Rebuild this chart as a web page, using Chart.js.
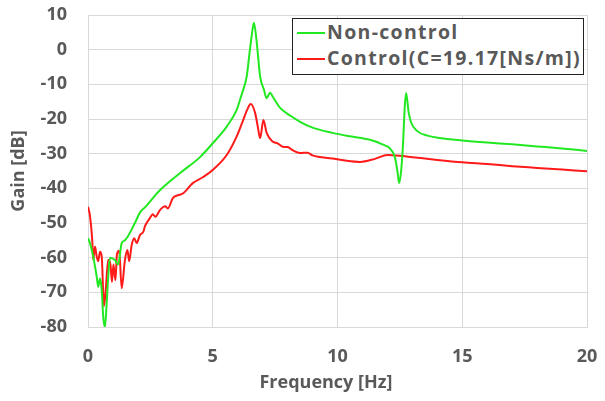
<!DOCTYPE html>
<html>
<head>
<meta charset="utf-8">
<script src="https://cdn.jsdelivr.net/npm/chart.js@4"></script>
<style>
  html,body{margin:0;padding:0;background:#fff;}
  #wrap{position:relative;width:605px;height:401px;}
  canvas{display:block;}
  #legend{position:absolute;left:292px;top:18px;width:292px;height:57px;border:1.5px solid #222;background:#fff;
    font-family:"Open Sans", sans-serif;font-weight:bold;font-size:19.5px;letter-spacing:1.3px;color:#595959;box-sizing:border-box;}
  .row{position:absolute;left:4px;height:26px;line-height:26px;white-space:nowrap;}
  .sw{display:inline-block;width:28px;height:2px;vertical-align:middle;margin-right:2px;position:relative;top:-1px;}
</style>
</head>
<body>
<div id="wrap">
<canvas id="c" width="605" height="401"></canvas>
<div id="legend">
  <div class="row" style="top:0px"><span class="sw" style="background:#22e822"></span>Non-control</div>
  <div class="row" style="top:26px"><span class="sw" style="background:#ff1a1a"></span>Control(C=19.17[Ns/m])</div>
</div>
</div>
<script>
const freqNonControl = [0,0.08,0.21,0.35,0.41,0.48,0.55,0.61,0.68,0.75,0.81,0.88,1.08,1.21,1.35,1.48,1.88,2.08,2.28,2.89,3.69,4.49,5.0,5.56,5.96,6.09,6.22,6.36,6.49,6.57,6.65,6.75,6.9,7.05,7.16,7.3,7.4,7.7,8.1,8.5,9.0,9.8,10.5,11.3,11.8,12.1,12.3,12.4,12.47,12.55,12.62,12.7,12.75,12.85,12.95,13.2,13.6,14.1,15,16,17,18,19,20];
const gainNonControl = [-54.4,-55.8,-59.7,-65.5,-68.4,-66,-69.3,-77,-80,-73,-65.5,-60,-60.7,-62,-55.8,-55,-50,-47,-45.5,-40.5,-35.6,-31,-27,-22.2,-17.4,-14.5,-11.6,-7.8,0,4.5,7.8,3,-7.8,-11.5,-14,-12.4,-13.5,-16.8,-19,-20.8,-22.5,-24,-25,-26,-27.3,-28.5,-31,-35,-38.5,-35,-28,-16,-12.5,-18,-21,-23.5,-24.8,-25.5,-26.2,-26.8,-27.3,-27.9,-28.5,-29.2];

const freqControl = [0,0.08,0.17,0.21,0.28,0.35,0.41,0.48,0.55,0.64,0.71,0.81,0.9,0.96,1.02,1.1,1.16,1.25,1.35,1.48,1.58,1.65,1.75,1.85,1.95,2.08,2.22,2.28,2.48,2.6,2.7,2.89,3.1,3.2,3.4,3.6,3.8,4.2,4.6,5.0,5.56,5.96,6.22,6.4,6.52,6.7,6.8,6.9,7.03,7.16,7.4,7.6,7.8,8.0,8.2,8.5,8.8,9.0,9.8,10.3,10.9,11.5,12.0,12.5,13.0,14.0,15,16,17,18,19,20];
const gainControl = [-45.3,-48,-55,-60.7,-56.8,-59.7,-61,-58.3,-59.7,-74,-69.3,-60.7,-62,-67,-62,-66.5,-59,-58,-68.8,-60.7,-57.8,-61,-56.4,-54.4,-55.8,-53.5,-52.5,-51,-48.6,-47.5,-48.2,-46.2,-45.2,-45.8,-42.8,-42,-41.5,-38.5,-36.8,-34.7,-30.4,-25,-20.3,-17,-15.7,-18.3,-22,-25.5,-20.3,-24,-26.5,-27,-28,-28.1,-29,-29.8,-29.7,-30.5,-31.4,-32,-32.4,-31.5,-30.4,-30.6,-31,-31.8,-32.5,-33,-33.6,-34.1,-34.6,-35.1];

const seriesNames = ['Non-control','Control(C=19.17[Ns/m])'];
const xTitle = 'Frequency [Hz]';
const yTitle = 'Gain [dB]';

const toPts = (xs, ys) => xs.map((x, i) => ({x, y: ys[i]}));
const FAM = '"Open Sans", sans-serif';
const tickFont = {family: FAM, size: 18, weight: 'bold'};
const grid = '#d9d9d9';
const textColor = '#595959';

const xTitlePlugin = {
  id: 'xTitle',
  afterDraw(chart) {
    const ctx = chart.ctx;
    ctx.save();
    ctx.font = 'bold 18px ' + FAM;
    ctx.fillStyle = textColor;
    ctx.textAlign = 'center';
    ctx.textBaseline = 'middle';
    ctx.fillText(xTitle, 326, 383);
    ctx.restore();
  }
};

new Chart(document.getElementById('c'), {
  type: 'line',
  data: {
    datasets: [
      {label: seriesNames[0], data: toPts(freqNonControl, gainNonControl), borderColor: '#22e822', borderWidth: 2, pointRadius: 0, cubicInterpolationMode: 'monotone', fill: false},
      {label: seriesNames[1], data: toPts(freqControl, gainControl), borderColor: '#ff1a1a', borderWidth: 2, pointRadius: 0, cubicInterpolationMode: 'monotone', fill: false}
    ]
  },
  plugins: [xTitlePlugin],
  options: {
    responsive: false,
    animation: false,
    layout: {padding: {top: 15, right: 18, left: 0, bottom: 0}},
    plugins: {legend: {display: false}, tooltip: {enabled: false}},
    scales: {
      x: {
        type: 'linear', min: 0, max: 20,
        ticks: {stepSize: 5, color: textColor, font: tickFont, padding: 19},
        grid: {color: grid, lineWidth: 1, drawTicks: false},
        border: {color: grid},
        afterFit: s => { s.height = 74; s.paddingLeft = 0; s.paddingRight = 0; }
      },
      y: {
        min: -80, max: 10,
        ticks: {stepSize: 10, color: textColor, font: tickFont, padding: 21},
        grid: {color: grid, lineWidth: 1, drawTicks: false},
        border: {color: grid},
        title: {display: true, text: yTitle, color: textColor, font: {family: FAM, size: 18, weight: 'bold'}, padding: {bottom: 0, top: 8}},
        afterFit: s => { s.width = 88; s.paddingTop = 0; s.paddingBottom = 0; }
      }
    }
  }
});
</script>
</body>
</html>
